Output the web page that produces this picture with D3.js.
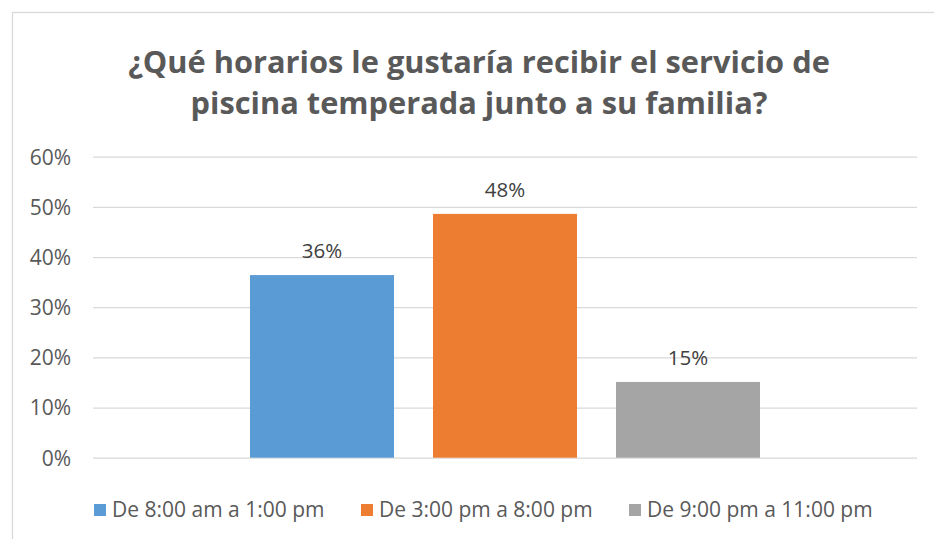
<!DOCTYPE html>
<html lang="es">
<head>
<meta charset="UTF-8" />
<title>Horarios piscina temperada</title>
<script src="https://d3js.org/d3.v7.min.js"></script>
<style>
  body { margin: 0; background: #fff; font-family: "Open Sans", Lato, sans-serif; }
  svg { display: block; }
  .grid line { stroke: #d9d9d9; stroke-width: 1.3; }
  .axis text { fill: #595959; font-size: 21px; font-family: "Open Sans", sans-serif; }
  .label { fill: #404040; font-size: 20.5px; }
  .legend text { fill: #595959; font-size: 21px; }
</style>
</head>
<body>
<div id="chart"></div>
<script>
  // datos
  const title = ["¿Qué horarios le gustaría recibir el servicio de", "piscina temperada junto a su familia?"];
  const categories = [""];
  const series = ["De 8:00 am a 1:00 pm", "De 3:00 pm a 8:00 pm", "De 9:00 pm a 11:00 pm"];
  const values = [0.364, 0.486, 0.151];
  const labels = ["36%", "48%", "15%"];
  const colors = ["#5b9bd5", "#ed7d31", "#a5a5a5"];
  const yTicks = [0, 0.1, 0.2, 0.3, 0.4, 0.5, 0.6];

  const width = 934, height = 539;
  const svg = d3.select("#chart").append("svg")
    .attr("width", width).attr("height", height);

  // marco del gráfico
  svg.append("rect")
    .attr("x", 12.5).attr("y", 12.5)
    .attr("width", 940).attr("height", 560)
    .attr("fill", "#fff").attr("stroke", "#d9d9d9").attr("stroke-width", 1.3);

  // título
  const t = svg.append("text")
    .attr("text-anchor", "middle")
    .attr("fill", "#595959")
    .attr("font-weight", "bold")
    .attr("font-size", 28);
  title.forEach((line, i) => {
    t.append("tspan").attr("x", 479).attr("y", 73 + i * 41).text(line);
  });
  // ajustar ancho del título al original
  const w0 = t.select("tspan").node().getComputedTextLength();
  t.attr("font-size", 28 * 702 / w0);

  const plot = { left: 93, right: 917, top: 156.7, bottom: 457.7 };

  const y = d3.scaleLinear().domain([0, 0.6]).range([plot.bottom, plot.top]);

  const x0 = d3.scaleBand().domain(categories)
    .range([plot.left, plot.right])
    .paddingInner(0).paddingOuter((824 / 510 - 1) / 2);

  const x1 = d3.scaleBand().domain(series)
    .range([0, x0.bandwidth()])
    .paddingInner(39 / 183).paddingOuter(0);

  // líneas de cuadrícula
  svg.append("g").attr("class", "grid")
    .attr("transform", `translate(${plot.left},0)`)
    .call(d3.axisLeft(y).tickValues(yTicks).tickSize(-(plot.right - plot.left)).tickFormat(""))
    .call(g => g.select(".domain").remove());

  // eje y
  svg.append("g").attr("class", "axis")
    .attr("transform", `translate(${plot.left - 22},0)`)
    .call(d3.axisLeft(y).tickValues(yTicks).tickSize(0).tickPadding(0).tickFormat(d3.format(".0%")))
    .call(g => g.select(".domain").remove())
    .call(g => g.selectAll("text").attr("dy", "0.35em"));

  // barras
  const grp = svg.append("g").attr("transform", `translate(${x0(categories[0])},0)`);
  grp.selectAll("rect").data(series).join("rect")
    .attr("x", d => x1(d))
    .attr("width", x1.bandwidth())
    .attr("y", (d, i) => y(values[i]))
    .attr("height", (d, i) => y(0) - y(values[i]))
    .attr("fill", (d, i) => colors[i]);

  // etiquetas de datos
  grp.selectAll("text").data(series).join("text")
    .attr("class", "label")
    .attr("text-anchor", "middle")
    .attr("x", d => x1(d) + x1.bandwidth() / 2)
    .attr("y", (d, i) => y(values[i]) - 17)
    .text((d, i) => labels[i]);

  // leyenda
  const legendX = [94, 361, 629];
  const lg = svg.append("g").attr("class", "legend");
  series.forEach((s, i) => {
    lg.append("rect").attr("x", legendX[i]).attr("y", 504)
      .attr("width", 12).attr("height", 12).attr("fill", colors[i]);
    lg.append("text").attr("x", legendX[i] + 18).attr("y", 510)
      .attr("dy", "0.35em").text(s);
  });
</script>
</body>
</html>
